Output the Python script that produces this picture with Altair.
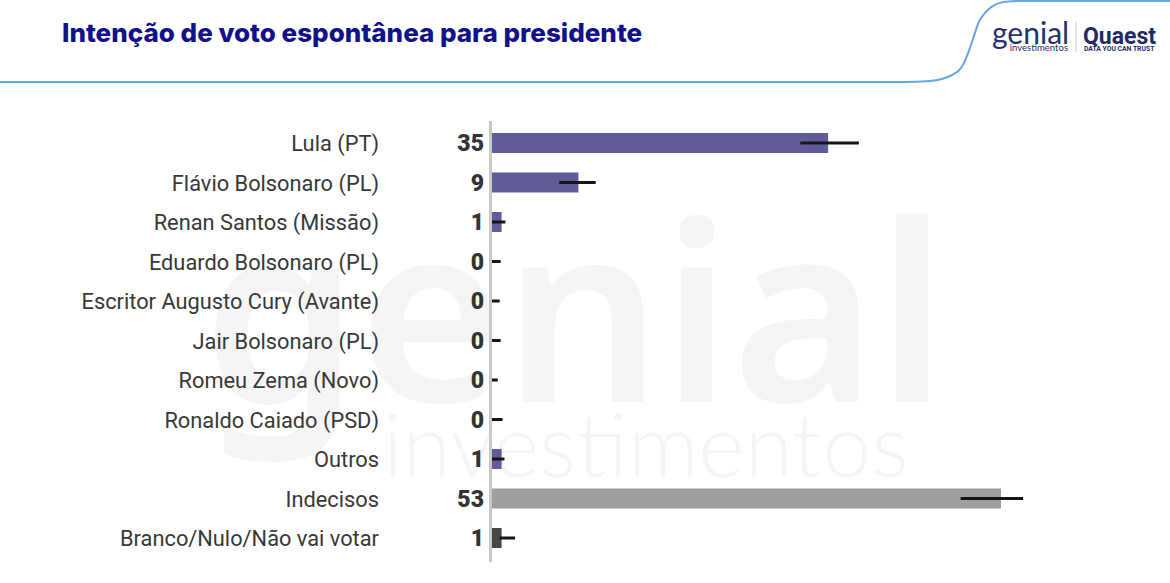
import altair as alt
import pandas as pd

# Spontaneous vote intention (%), with the survey's error range per row
candidates = [
    "Lula (PT)",
    "Flávio Bolsonaro (PL)",
    "Renan Santos (Missão)",
    "Eduardo Bolsonaro (PL)",
    "Escritor Augusto Cury (Avante)",
    "Jair Bolsonaro (PL)",
    "Romeu Zema (Novo)",
    "Ronaldo Caiado (PSD)",
    "Outros",
    "Indecisos",
    "Branco/Nulo/Não vai votar",
]
values = [35, 9, 1, 0, 0, 0, 0, 0, 1, 53, 1]
err_low = [32.1, 7.0, 0.0, 0.0, 0.0, 0.0, 0.0, 0.0, 0.0, 48.8, 0.8]
err_high = [38.2, 10.8, 1.4, 0.9, 0.8, 0.9, 0.6, 1.1, 1.3, 55.3, 2.4]
groups = ["nome"] * 9 + ["indecisos", "branco"]

df = pd.DataFrame(
    {"cat": candidates, "v": values, "lo": err_low, "hi": err_high, "grp": groups}
)

W, H = 1170, 583
FONT = "Roboto"

x_scale = alt.Scale(domain=[0, 53], range=[492, 1001], nice=False, zero=False)
y_scale = alt.Scale(domain=candidates, range=[123.25, 557.75], paddingInner=0, paddingOuter=0)
color_scale = alt.Scale(
    domain=["nome", "indecisos", "branco"], range=["#605c98", "#9e9e9e", "#474747"]
)

Y = alt.Y("cat:N", sort=candidates, scale=y_scale, axis=None)


def text(t, x, y, **kw):
    return (
        alt.Chart(pd.DataFrame({"t": [t]}))
        .mark_text(**kw)
        .encode(x=alt.value(x), y=alt.value(y), text="t:N")
    )


# faint brand watermark behind the plot
watermark = alt.layer(
    text("genial", 203, 402, font="Noto Sans", fontSize=248, fontWeight=600,
         color="#f5f5f5", align="left", baseline="alphabetic"),
    text("investimentos", 383, 477, font="Lato", fontSize=88, fontWeight=300,
         color="#f5f5f5", align="left", baseline="alphabetic"),
)

# header: frame line with curved notch on the right
frame_pts = pd.DataFrame(
    {
        "px": [0, 905, 930, 952, 964, 971, 978, 989, 1004, 1020, 1170],
        "py": [82, 82, 81, 75, 63, 45, 24, 9, 2, 1, 1],
    }
)
frame = (
    alt.Chart(frame_pts)
    .mark_line(color="#6aa6dc", strokeWidth=2, interpolate="monotone")
    .encode(x=alt.X("px:Q", scale=None), y=alt.Y("py:Q", scale=None), order="px:Q")
)

title = text(
    "Intenção de voto espontânea para presidente", 62, 42,
    font="Inter", fontSize=26, fontWeight=800, color="#11118a",
    align="left", baseline="alphabetic",
)

logo = alt.layer(
    text("genial", 992, 44, font="Lato", fontSize=30, color="#28306c",
         align="left", baseline="alphabetic"),
    text("investimentos", 1068, 51, font="Lato", fontSize=9.5, color="#28306c",
         align="right", baseline="alphabetic"),
    text("Quaest", 1083, 44, font=FONT, fontSize=23, fontWeight="bold",
         color="#1f2a66", align="left", baseline="alphabetic"),
    text("DATA YOU CAN TRUST", 1084, 51, font=FONT, fontSize=6.8, fontWeight="bold",
         color="#1f2a66", align="left", baseline="alphabetic"),
    alt.Chart(pd.DataFrame({"a": [0]}))
    .mark_rule(color="#c9ccd8", strokeWidth=1)
    .encode(x=alt.value(1076), y=alt.value(22), y2=alt.value(52)),
)

bars = (
    alt.Chart(df)
    .mark_bar(size=20)
    .encode(
        x=alt.X("v:Q", scale=x_scale, axis=None),
        y=Y,
        color=alt.Color("grp:N", scale=color_scale, legend=None),
    )
)

errs = (
    alt.Chart(df)
    .mark_rule(color="#151515", strokeWidth=3)
    .encode(x=alt.X("lo:Q", scale=x_scale, axis=None), x2="hi:Q", y=Y)
)

baseline_rule = (
    alt.Chart(pd.DataFrame({"a": [0]}))
    .mark_rule(color="#c8c8c8", strokeWidth=3)
    .encode(x=alt.value(490.5), y=alt.value(121), y2=alt.value(562))
)

cat_labels = (
    alt.Chart(df)
    .mark_text(font=FONT, fontSize=21.8, color="#383838", align="right", baseline="middle", dy=1)
    .encode(x=alt.value(379), y=Y, text="cat:N")
)

val_labels = (
    alt.Chart(df)
    .mark_text(font=FONT, fontSize=23, fontWeight=900, color="#333333",
               align="right", baseline="middle", dy=1)
    .encode(x=alt.value(484), y=Y, text="v:Q")
)

chart = (
    alt.layer(watermark, frame, title, logo, bars, errs, baseline_rule, cat_labels, val_labels)
    .resolve_scale(x="shared", y="shared")
    .properties(
        width=W,
        height=H,
        autosize=alt.AutoSizeParams(type="none"),
        padding=0,
        background="white",
    )
    .configure_view(stroke=None)
)

chart.save("out.html", embed_options={"renderer": "svg", "actions": False})
